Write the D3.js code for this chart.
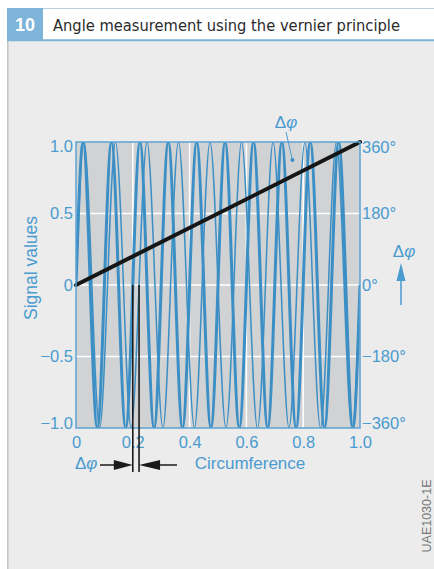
<!DOCTYPE html>
<html>
<head>
<meta charset="utf-8">
<script src="https://cdn.jsdelivr.net/npm/d3@7"></script>
<style>
  body { margin: 0; background: #ffffff; }
  svg { display: block; font-family: "Liberation Sans", Arial, sans-serif; }
</style>
</head>
<body>
<script>

// ---- data ----

// thick signal: 10 periods over the circumference (zero, peak, zero, trough ...)
var thick_x = [0, 0.025, 0.05, 0.075, 0.1, 0.125, 0.15, 0.175, 0.2, 0.225,
  0.25, 0.275, 0.3, 0.325, 0.35, 0.375, 0.4, 0.425, 0.45, 0.475,
  0.5, 0.525, 0.55, 0.575, 0.6, 0.625, 0.65, 0.675, 0.7, 0.725,
  0.75, 0.775, 0.8, 0.825, 0.85, 0.875, 0.9, 0.925, 0.95, 0.975, 1.0]
var thick_y = [0, 1, 0, -1, 0, 1, 0, -1, 0, 1,
  0, -1, 0, 1, 0, -1, 0, 1, 0, -1,
  0, 1, 0, -1, 0, 1, 0, -1, 0, 1,
  0, -1, 0, 1, 0, -1, 0, 1, 0, -1, 0]

// thin signal: 9 periods over the circumference
var thin_x = [0, 0.028, 0.056, 0.083, 0.111, 0.139, 0.167, 0.194, 0.222, 0.25,
  0.278, 0.306, 0.333, 0.361, 0.389, 0.417, 0.444, 0.472, 0.5, 0.528,
  0.556, 0.583, 0.611, 0.639, 0.667, 0.694, 0.722, 0.75, 0.778, 0.806,
  0.833, 0.861, 0.889, 0.917, 0.944, 0.972, 1.0]
var thin_y = [0, 1, 0, -1, 0, 1, 0, -1, 0, 1,
  0, -1, 0, 1, 0, -1, 0, 1, 0, -1,
  0, 1, 0, -1, 0, 1, 0, -1, 0, 1,
  0, -1, 0, 1, 0, -1, 0]

// phase difference line (right axis, degrees)
var phase_x = [0, 1]
var phase_deg = [0, 360]

// zero crossings marked below the plot
var marker_x = [0.2, 0.222]

// point the upper delta phi label points at
var label_point = [0.762, 0.874]

// ticks
var x_ticks = [0, 0.2, 0.4, 0.6, 0.8, 1.0]
var x_tick_labels = ["0", "0.2", "0.4", "0.6", "0.8", "1.0"]
var y_ticks = [1, 0.5, 0, -0.5, -1]
var y_tick_labels = ["1.0", "0.5", "0", "\u22120.5", "\u22121.0"]
var deg_ticks = [360, 180, 0, -180, -360]
var deg_tick_labels = ["360°", "180°", "0°", "\u2212180°", "\u2212360°"]
var grid_x = [0.2, 0.4, 0.6, 0.8]
var grid_y = [0.5, 0, -0.5]

// ---- layout ----
var svg_width = 434
var svg_height = 569
var blue_text = "#4a9bd0"
var blue_wave = "#3b8fc5"

var svg = d3.select("body")
  .append("svg")
  .attr("width", svg_width)
  .attr("height", svg_height)

// panel background and header
svg.append("rect")
  .attr("x", 7).attr("y", 40)
  .attr("width", svg_width - 7).attr("height", svg_height - 40)
  .attr("fill", "#ebeceb")
svg.append("line")
  .attr("x1", 7.8).attr("x2", 7.8).attr("y1", 40).attr("y2", svg_height)
  .attr("stroke", "#c4c6c6").attr("stroke-width", 1.6)

svg.append("rect")
  .attr("x", 7).attr("y", 8)
  .attr("width", svg_width - 7).attr("height", 32)
  .attr("fill", "#ffffff")
svg.append("line")
  .attr("x1", 7).attr("x2", svg_width).attr("y1", 8.5).attr("y2", 8.5)
  .attr("stroke", "#b5cfe2").attr("stroke-width", 1)
svg.append("line")
  .attr("x1", 7).attr("x2", svg_width).attr("y1", 40.3).attr("y2", 40.3)
  .attr("stroke", "#7fb4da").attr("stroke-width", 2)
svg.append("rect")
  .attr("x", 7).attr("y", 8)
  .attr("width", 36).attr("height", 33)
  .attr("fill", "#7fb4da")
svg.append("text")
  .attr("x", 25).attr("y", 31)
  .attr("text-anchor", "middle")
  .attr("font-size", 18).attr("font-weight", "bold")
  .attr("fill", "#ffffff")
  .text("10")
svg.append("text")
  .attr("x", 53).attr("y", 31)
  .attr("font-size", 15.5)
  .attr("font-family", "'DejaVu Sans', sans-serif")
  .attr("textLength", 347).attr("lengthAdjust", "spacingAndGlyphs")
  .attr("fill", "#2b2b2b")
  .text("Angle measurement using the vernier principle")

// scales
var x_scale = d3.scaleLinear().domain([0, 1]).range([76, 360])
var y_scale = d3.scaleLinear().domain([-1, 1]).range([428, 142])
var deg_scale = d3.scaleLinear().domain([-360, 360]).range([428, 142])

// plot area
svg.append("rect")
  .attr("x", x_scale(0)).attr("y", y_scale(1))
  .attr("width", x_scale(1) - x_scale(0))
  .attr("height", y_scale(-1) - y_scale(1))
  .attr("fill", "#d1d2d4")

svg.append("clipPath").attr("id", "plot_clip")
  .append("rect")
  .attr("x", x_scale(0)).attr("y", y_scale(1))
  .attr("width", x_scale(1) - x_scale(0))
  .attr("height", y_scale(-1) - y_scale(1))

// white grid
svg.append("g").selectAll("line")
  .data(grid_y).enter().append("line")
  .attr("x1", x_scale(0)).attr("x2", x_scale(1))
  .attr("y1", function(d) { return y_scale(d) })
  .attr("y2", function(d) { return y_scale(d) })
  .attr("stroke", "#ffffff").attr("stroke-width", 1.5)
svg.append("g").selectAll("line")
  .data(grid_x).enter().append("line")
  .attr("x1", function(d) { return x_scale(d) })
  .attr("x2", function(d) { return x_scale(d) })
  .attr("y1", y_scale(1)).attr("y2", y_scale(-1))
  .attr("stroke", "#ffffff").attr("stroke-width", 1.5)

// signals
var wave_line = d3.line()
  .x(function(d) { return x_scale(d[0]) })
  .y(function(d) { return y_scale(d[1]) })
  .curve(d3.curveNatural)

var waves = svg.append("g").attr("clip-path", "url(#plot_clip)")

waves.append("path")
  .datum(thin_x.map(function(v, i) { return [v, thin_y[i]] }))
  .attr("d", wave_line)
  .attr("fill", "none")
  .attr("stroke", blue_wave).attr("stroke-width", 1.5)

waves.append("path")
  .datum(thick_x.map(function(v, i) { return [v, thick_y[i]] }))
  .attr("d", wave_line)
  .attr("fill", "none")
  .attr("stroke", blue_wave).attr("stroke-width", 3)

// phase difference line
var phase_line = d3.line()
  .x(function(d) { return x_scale(d[0]) })
  .y(function(d) { return deg_scale(d[1]) })
svg.append("path")
  .datum(phase_x.map(function(v, i) { return [v, phase_deg[i]] }))
  .attr("d", phase_line)
  .attr("fill", "none")
  .attr("stroke", "#161616").attr("stroke-width", 4)
  .attr("stroke-linecap", "round")

// frame
svg.append("rect")
  .attr("x", x_scale(0)).attr("y", y_scale(1))
  .attr("width", x_scale(1) - x_scale(0))
  .attr("height", y_scale(-1) - y_scale(1))
  .attr("fill", "none")
  .attr("stroke", "#5da2d2").attr("stroke-width", 1.5)

// axes, https://github.com/d3/d3-axis
var left_axis = d3.axisLeft(y_scale)
  .tickValues(y_ticks).tickSize(0).tickPadding(3)
  .tickFormat(function(d, i) { return y_tick_labels[i] })
var right_axis = d3.axisRight(deg_scale)
  .tickValues(deg_ticks).tickSize(0).tickPadding(2)
  .tickFormat(function(d, i) { return deg_tick_labels[i] })
var bottom_axis = d3.axisBottom(x_scale)
  .tickValues(x_ticks).tickSize(0).tickPadding(8.5)
  .tickFormat(function(d, i) { return x_tick_labels[i] })

function style_axis(g) {
  g.select(".domain").remove()
  g.attr("font-family", null).attr("font-size", null)
  g.selectAll("text")
    .attr("font-size", 16.5)
    .attr("fill", blue_text)
}

svg.append("g")
  .attr("transform", "translate(" + x_scale(0) + ",0)")
  .call(left_axis).call(style_axis)
  .selectAll("text")
  .attr("y", function(d) { return d == 1 ? 4.5 : (d == -1 ? -4.5 : 0) })

svg.append("g")
  .attr("transform", "translate(" + x_scale(1) + ",0)")
  .call(right_axis).call(style_axis)
  .selectAll("text")
  .attr("y", function(d) { return d == 360 ? 5.5 : (d == -360 ? -4.5 : 0) })

svg.append("g")
  .attr("transform", "translate(0," + y_scale(-1) + ")")
  .call(bottom_axis).call(style_axis)

// axis titles
svg.append("text")
  .attr("transform", "translate(37," + 268 + ") rotate(-90)")
  .attr("text-anchor", "middle")
  .attr("font-size", 17.5).attr("fill", blue_text)
  .text("Signal values")

svg.append("text")
  .attr("x", 250).attr("y", 469)
  .attr("text-anchor", "middle")
  .attr("font-size", 17).attr("fill", blue_text)
  .text("Circumference")

// right delta phi with arrow
var delta_right = svg.append("text")
  .attr("x", 404).attr("y", 257)
  .attr("text-anchor", "middle")
  .attr("font-size", 17).attr("fill", blue_text)
delta_right.append("tspan").text("\u0394")
delta_right.append("tspan").attr("font-style", "italic").text("\u03c6")
svg.append("path")
  .attr("d", "M401,263 L396.5,281 L405.5,281 Z")
  .attr("fill", blue_text)
svg.append("line")
  .attr("x1", 401).attr("x2", 401).attr("y1", 280).attr("y2", 305)
  .attr("stroke", blue_text).attr("stroke-width", 1.5)

// upper delta phi label with leader
var delta_top = svg.append("text")
  .attr("x", 286).attr("y", 128)
  .attr("text-anchor", "middle")
  .attr("font-size", 17).attr("fill", blue_text)
delta_top.append("tspan").text("\u0394")
delta_top.append("tspan").attr("font-style", "italic").text("\u03c6")
svg.append("line")
  .attr("x1", 286).attr("y1", 132)
  .attr("x2", x_scale(label_point[0])).attr("y2", y_scale(label_point[1]))
  .attr("stroke", blue_text).attr("stroke-width", 1)
svg.append("circle")
  .attr("cx", x_scale(label_point[0])).attr("cy", y_scale(label_point[1]))
  .attr("r", 2).attr("fill", blue_wave)

// zero crossing markers and delta phi arrows below the plot
svg.append("g").selectAll("line")
  .data(marker_x).enter().append("line")
  .attr("x1", function(d) { return x_scale(d) })
  .attr("x2", function(d) { return x_scale(d) })
  .attr("y1", y_scale(0)).attr("y2", 472)
  .attr("stroke", "#1b1b1b").attr("stroke-width", 1.6)

var arrow_y = 465
var a0 = x_scale(marker_x[0])
var a1 = x_scale(marker_x[1])
svg.append("line")
  .attr("x1", 100).attr("x2", a0 - 18).attr("y1", arrow_y).attr("y2", arrow_y)
  .attr("stroke", "#1b1b1b").attr("stroke-width", 1.5)
svg.append("path")
  .attr("d", "M" + a0 + "," + arrow_y + " L" + (a0 - 19) + "," + (arrow_y - 5) + " L" + (a0 - 19) + "," + (arrow_y + 5) + " Z")
  .attr("fill", "#1b1b1b")
svg.append("path")
  .attr("d", "M" + a1 + "," + arrow_y + " L" + (a1 + 21) + "," + (arrow_y - 5) + " L" + (a1 + 21) + "," + (arrow_y + 5) + " Z")
  .attr("fill", "#1b1b1b")
svg.append("line")
  .attr("x1", a1 + 20).attr("x2", 177).attr("y1", arrow_y).attr("y2", arrow_y)
  .attr("stroke", "#1b1b1b").attr("stroke-width", 1.5)

var delta_bottom = svg.append("text")
  .attr("x", 75).attr("y", 469)
  .attr("font-size", 17).attr("fill", blue_text)
delta_bottom.append("tspan").text("\u0394")
delta_bottom.append("tspan").attr("font-style", "italic").text("\u03c6")

// figure code
svg.append("text")
  .attr("transform", "translate(431,516) rotate(-90)")
  .attr("text-anchor", "middle")
  .attr("font-size", 12.5).attr("fill", "#777777")
  .text("UAE1030-1E")

</script>
</body>
</html>
